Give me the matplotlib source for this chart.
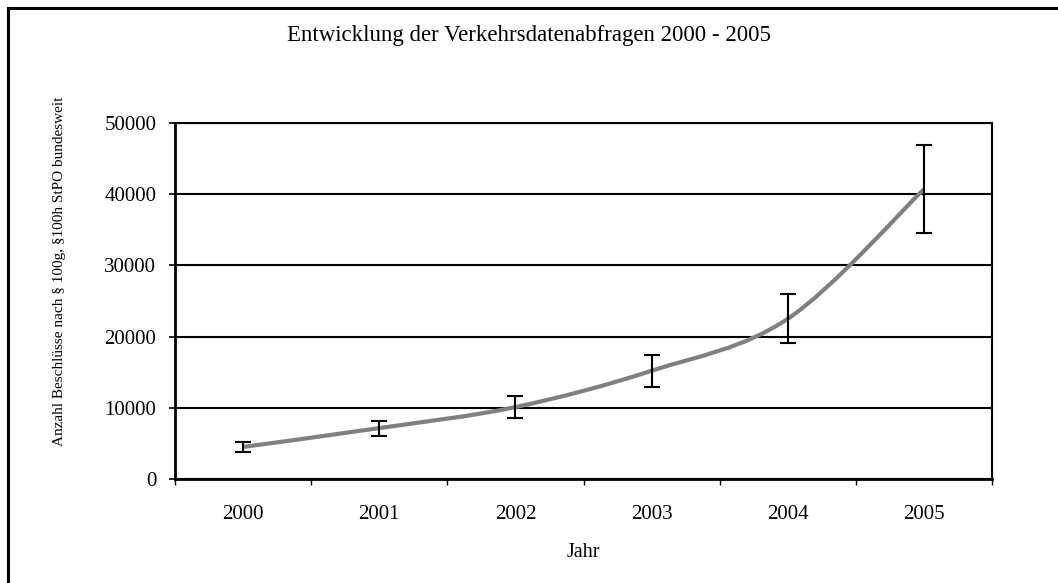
import matplotlib
matplotlib.use("Agg")
import matplotlib.pyplot as plt
from matplotlib.path import Path
from matplotlib.patches import PathPatch
from matplotlib.lines import Line2D

plt.rcParams['font.family'] = ['Liberation Serif', 'DejaVu Serif']

years = ['2000', '2001', '2002', '2003', '2004', '2005']
values = [4500, 7150, 10100, 15200, 22500, 40700]
errors = [700, 1050, 1550, 2250, 3450, 6150]

fig = plt.figure(figsize=(10.58, 5.83), dpi=100)
ax = fig.add_axes([175/1058, 1-479/583, (992-175)/1058, (479-123)/583])

xs = list(range(len(years)))

# smoothed line (excel style), bezier through the data points
pts = list(zip(xs, values))
verts = [pts[0]]
codes = [Path.MOVETO]
for i in range(len(pts) - 1):
    p0 = pts[max(i - 1, 0)]
    p1 = pts[i]
    p2 = pts[i + 1]
    p3 = pts[min(i + 2, len(pts) - 1)]
    c1 = (p1[0] + (p2[0] - p0[0]) / 6, p1[1] + (p2[1] - p0[1]) / 6)
    c2 = (p2[0] - (p3[0] - p1[0]) / 6, p2[1] - (p3[1] - p1[1]) / 6)
    verts += [c1, c2, p2]
    codes += [Path.CURVE4] * 3
ax.add_patch(PathPatch(Path(verts, codes), facecolor='none',
                       edgecolor='#808080', lw=3, zorder=3))

ax.errorbar(xs, values, yerr=errors, fmt='none', ecolor='black',
            elinewidth=1.5, capsize=5.5, capthick=1.5, zorder=4)

ax.set_xlim(-0.5, 5.5)
ax.set_ylim(0, 50000)
ax.set_yticks(range(0, 50001, 10000))
ax.grid(axis='y', color='black', lw=1.5)
ax.set_axisbelow(True)

ax.set_xticks(xs)
ax.set_xticklabels(years)
ax.set_xticks([x - 0.5 for x in range(len(years) + 1)], minor=True)
ax.tick_params(axis='x', which='major', length=0, pad=19, labelsize=15)
ax.tick_params(axis='x', which='minor', length=4.5, width=1, direction='out')
ax.tick_params(axis='y', length=4.5, width=1.2, pad=9, labelsize=15)

for side in ['left', 'bottom']:
    ax.spines[side].set_linewidth(2)
for side in ['top', 'right']:
    ax.spines[side].set_linewidth(1.5)

ax.set_xlabel('Jahr', fontsize=14.5)
ax.xaxis.set_label_coords(0.5, -0.18)
ax.set_ylabel('Anzahl Beschlüsse nach § 100g, §100h StPO bundesweit', fontsize=11)
ax.yaxis.set_label_coords(-0.133, 0.584)

fig.text(0.5, 1 - 36/583, 'Entwicklung der Verkehrsdatenabfragen 2000 - 2005',
         ha='center', va='center', fontsize=16.5)

# outer frame (left and top edges visible)
fig.add_artist(Line2D([8/1058, 8/1058], [0, 1 - 8/583], color='black', lw=2.2))
fig.add_artist(Line2D([8/1058, 1], [1 - 8/583, 1 - 8/583], color='black', lw=2.2))

fig.savefig('out.png', dpi=100)
